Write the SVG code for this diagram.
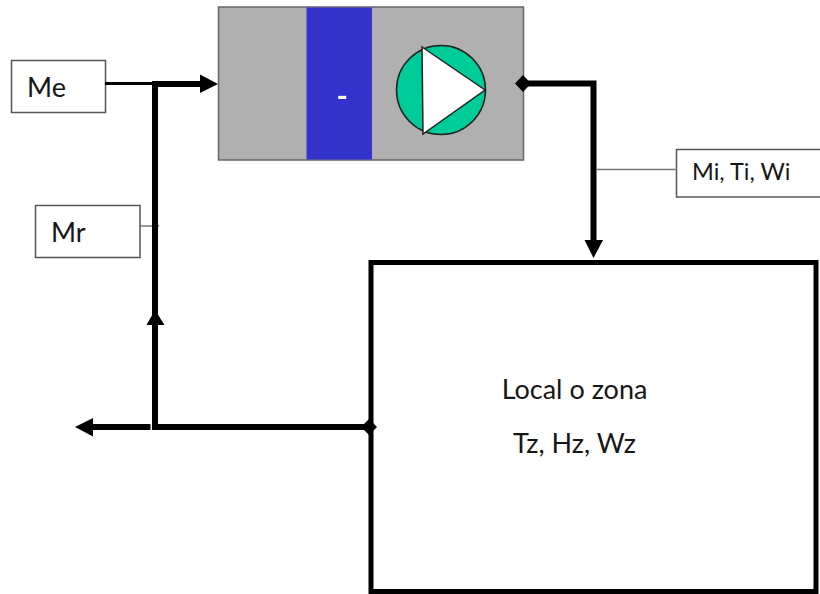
<svg xmlns="http://www.w3.org/2000/svg" width="820" height="594" viewBox="0 0 820 594">
<style>
text{font-family:"Lato","Liberation Sans",sans-serif;fill:#161616}
.label{fill:#fff;stroke:#555;stroke-width:1.5}
.thin{fill:none;stroke:#777;stroke-width:1.5}
.thick{fill:none;stroke:#000;stroke-width:6}
.head{fill:#000}
</style>
<rect width="820" height="594" fill="#fff"/>
<g id="unit">
<rect x="218.500" y="7" width="305" height="153" fill="#b0b0b0" stroke="#666" stroke-width="1.500"/>
<rect x="306.500" y="7.500" width="65.500" height="152" fill="#3333cc"/>
<text x="342" y="107" font-size="30" font-weight="700" text-anchor="middle" style="fill:#fff">-</text>
<circle cx="441" cy="90" r="44.500" fill="#00cc99" stroke="#222" stroke-width="1.500"/>
<polygon points="422,47 485,90 423,134" fill="#fff" stroke="#222" stroke-width="1.500"/>
</g>
<g id="zone">
<rect x="371" y="262.500" width="445" height="329" fill="#fff" stroke="#000" stroke-width="5"/>
<text x="574.500" y="399" font-size="27" text-anchor="middle">Local o zona</text>
<text x="574.500" y="453" font-size="27" text-anchor="middle">Tz, Hz, Wz</text>
</g>
<g id="me">
<rect x="11.500" y="60.500" width="94" height="52" class="label"/>
<text x="27" y="97" font-size="27">Me</text>
</g>
<g id="mr">
<rect x="35.500" y="205.500" width="104.500" height="52" class="label"/>
<text x="51" y="242" font-size="27">Mr</text>
</g>
<g id="mi">
<rect x="676.500" y="149.500" width="150" height="47.500" class="label"/>
<text x="692" y="180" font-size="23.500">Mi, Ti, Wi</text>
</g>
<g id="connectors">
<line x1="105" y1="83.500" x2="155" y2="83.500" stroke="#000" stroke-width="3"/>
<line x1="140" y1="226" x2="159" y2="226" class="thin"/>
<line x1="597" y1="169.500" x2="677" y2="169.500" class="thin"/>
<path d="M152 84H202" class="thick"/>
<polygon points="200,74.500 218,84 200,93" class="head"/>
<path d="M155 427V84" class="thick"/>
<polygon points="155,310 164.500,325 146.500,325" class="head"/>
<path d="M523 83.500H593.500V242" class="thick"/>
<polygon points="515,83.500 523,75 531,83.500 523,92" class="head"/>
<polygon points="584.500,240 603,240 593.500,258" class="head"/>
<path d="M152 427H369" class="thick"/>
<path d="M150.500 427H90" class="thick"/>
<polygon points="75,427 93,418 93,436.500" class="head"/>
<polygon points="361,427 369,419 377,427 369,435" class="head"/>
</g>
</svg>
